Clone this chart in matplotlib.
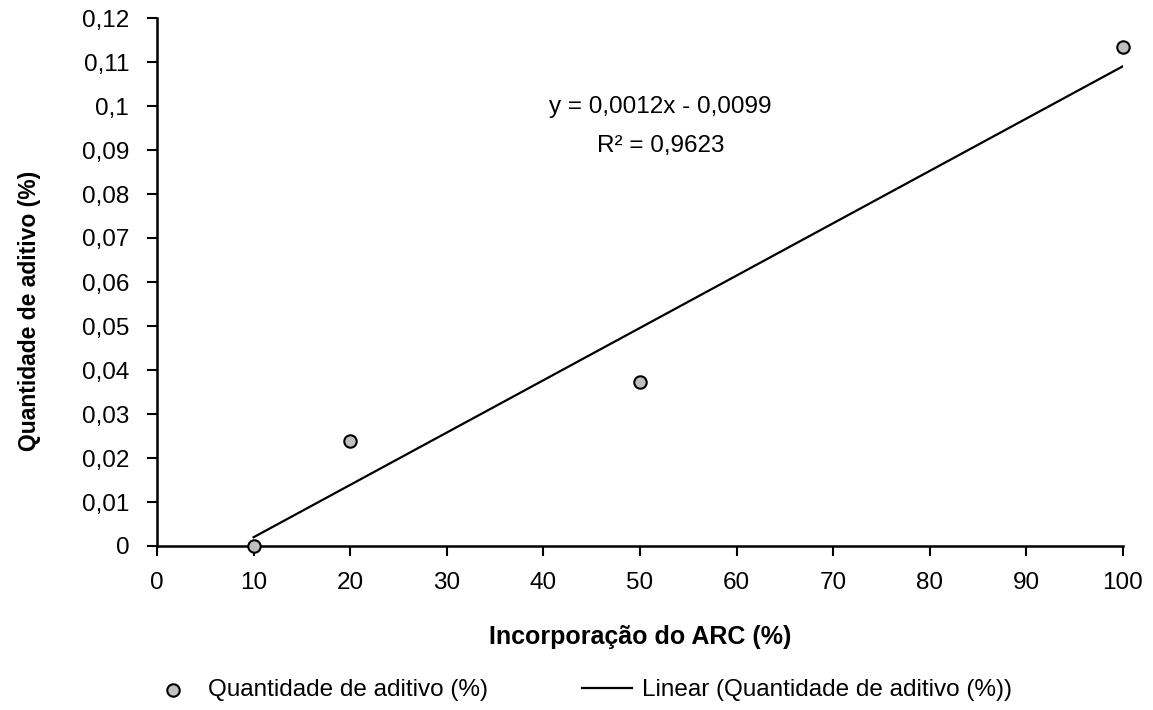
import numpy as np
import matplotlib.pyplot as plt

plt.rcParams['font.family'] = ['Liberation Sans', 'DejaVu Sans']

# Incorporação do ARC (%) vs quantidade de aditivo (%)
arc_pct = [10, 20, 50, 100]
aditivo_pct = [0.0, 0.0238, 0.0373, 0.1134]
x_ticks = [0, 10, 20, 30, 40, 50, 60, 70, 80, 90, 100]
y_ticks = [0, 0.01, 0.02, 0.03, 0.04, 0.05, 0.06, 0.07, 0.08, 0.09, 0.1, 0.11, 0.12]

slope, intercept = np.polyfit(arc_pct, aditivo_pct, 1)
fit_x = np.array([min(arc_pct), max(arc_pct)])
fit_y = slope * fit_x + intercept
pred = slope * np.array(arc_pct) + intercept
resid = np.array(aditivo_pct) - pred
r2 = 1 - np.sum(resid ** 2) / np.sum((np.array(aditivo_pct) - np.mean(aditivo_pct)) ** 2)


def br(v, nd):
    return f"{v:.{nd}f}".replace('.', ',')


fig = plt.figure(figsize=(11.53, 7.10), dpi=100)
ax = fig.add_axes([157 / 1153, 1 - 546 / 710, (1123 - 157) / 1153, (546 - 18) / 710])

ax.scatter(arc_pct, aditivo_pct, s=80, facecolor='#c0c0c0', edgecolor='black',
           linewidth=1.5, zorder=3, clip_on=False, label='Quantidade de aditivo (%)')
ax.plot(fit_x, fit_y, color='black', lw=1.6, zorder=2,
        label='Linear (Quantidade de aditivo (%))')

ax.set_xlim(0, 100)
ax.set_ylim(0, 0.12)
ax.set_xticks(x_ticks)
ax.set_yticks(y_ticks)
ax.set_xticklabels([str(t) for t in x_ticks])
ax.set_yticklabels(['0' if t == 0 else br(t, 2).rstrip('0') for t in y_ticks])
ax.tick_params(labelsize=17.5, length=7, width=1.5, direction='out')
ax.tick_params(axis='y', pad=13)
ax.tick_params(axis='x', pad=12)

for side in ['top', 'right']:
    ax.spines[side].set_visible(False)
for side in ['left', 'bottom']:
    ax.spines[side].set_linewidth(1.8)
ax.spines['bottom'].set_zorder(1)

ax.set_xlabel('Incorporação do ARC (%)', fontsize=18, fontweight='bold', labelpad=22)
ax.set_ylabel('Quantidade de aditivo (%)', fontsize=16.5, fontweight='bold')
ax.yaxis.set_label_coords(-0.120, 0.445)

sign = '-' if intercept < 0 else '+'
ax.text(0.521, 0.832, f"y = {br(slope, 4)}x {sign} {br(abs(intercept), 4)}",
        transform=ax.transAxes, ha='center', va='center', fontsize=17.5)
ax.text(0.521, 0.757, f"R² = {br(r2, 4)}",
        transform=ax.transAxes, ha='center', va='center', fontsize=17.5)

fig.legend(loc='center', bbox_to_anchor=(0.503, 1 - 690 / 710), ncol=2, frameon=False,
           fontsize=17.5, handlelength=2.05, columnspacing=3.9, handletextpad=0.4)

fig.savefig('out.png', dpi=100)
